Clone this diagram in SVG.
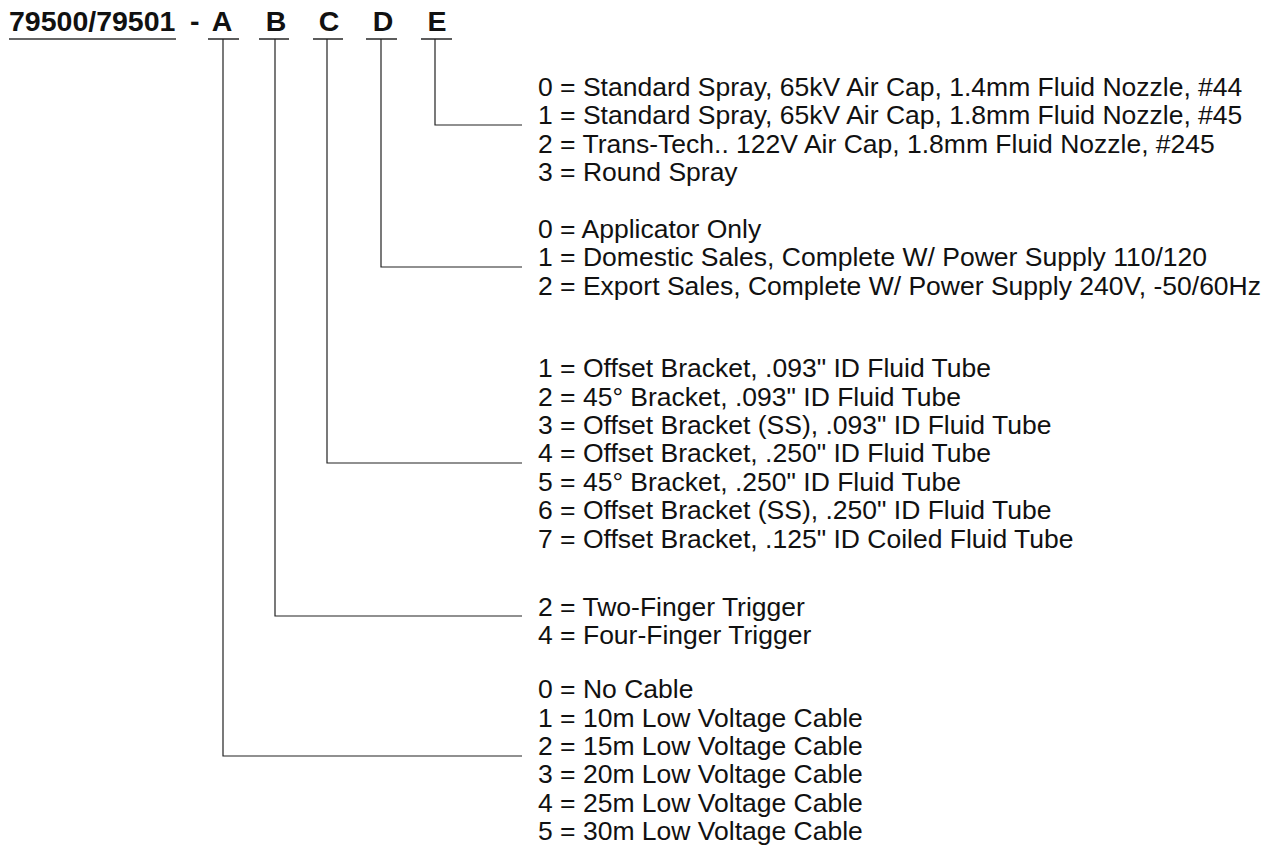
<svg xmlns="http://www.w3.org/2000/svg" width="1285" height="858" viewBox="0 0 1285 858">
<style>
.t{font-family:"Liberation Sans",Arial,sans-serif;font-size:26.5px;fill:#111}
.h{font-family:"Liberation Sans",Arial,sans-serif;font-size:28.5px;font-weight:bold;fill:#111}
.u{stroke:#333;stroke-width:1.6;fill:none}
.c{stroke:#222;stroke-width:1.2;fill:none}
</style>
<rect width="1285" height="858" fill="#fff"/>
<g id="header">
<text class="h" x="9" y="31">79500/79501</text>
<text class="h" x="190" y="31">-</text>
<line class="u" x1="9" y1="39" x2="176" y2="39"/>
</g>
<g id="A"><text class="h" x="222" y="31" text-anchor="middle">A</text><line class="u" x1="208" y1="39" x2="239" y2="39"/></g>
<g id="B"><text class="h" x="276" y="31" text-anchor="middle">B</text><line class="u" x1="259" y1="39" x2="289" y2="39"/></g>
<g id="C"><text class="h" x="329" y="31" text-anchor="middle">C</text><line class="u" x1="313" y1="39" x2="343" y2="39"/></g>
<g id="D"><text class="h" x="383" y="31" text-anchor="middle">D</text><line class="u" x1="366" y1="39" x2="397" y2="39"/></g>
<g id="E"><text class="h" x="437" y="31" text-anchor="middle">E</text><line class="u" x1="421" y1="39" x2="452" y2="39"/></g>
<g id="connectors">
<polyline class="c" points="435,39 435,125 522,125"/>
<polyline class="c" points="381,39 381,267 522,267"/>
<polyline class="c" points="327,39 327,463 522,463"/>
<polyline class="c" points="275,39 275,616 522,616"/>
<polyline class="c" points="223,39 223,756 522,756"/>
</g>
<g id="E-options">
<text class="t" x="538" y="96">0 = Standard Spray, 65kV Air Cap, 1.4mm Fluid Nozzle, #44</text>
<text class="t" x="538" y="124.4">1 = Standard Spray, 65kV Air Cap, 1.8mm Fluid Nozzle, #45</text>
<text class="t" x="538" y="152.8">2 = Trans-Tech.. 122V Air Cap, 1.8mm Fluid Nozzle, #245</text>
<text class="t" x="538" y="181.2">3 = Round Spray</text>
</g>
<g id="D-options">
<text class="t" x="538" y="238">0 = Applicator Only</text>
<text class="t" x="538" y="266.4">1 = Domestic Sales, Complete W/ Power Supply 110/120</text>
<text class="t" x="538" y="294.8">2 = Export Sales, Complete W/ Power Supply 240V, -50/60Hz</text>
</g>
<g id="C-options">
<text class="t" x="538" y="377.2">1 = Offset Bracket, .093" ID Fluid Tube</text>
<text class="t" x="538" y="405.6">2 = 45° Bracket, .093" ID Fluid Tube</text>
<text class="t" x="538" y="434">3 = Offset Bracket (SS), .093" ID Fluid Tube</text>
<text class="t" x="538" y="462.4">4 = Offset Bracket, .250" ID Fluid Tube</text>
<text class="t" x="538" y="490.8">5 = 45° Bracket, .250" ID Fluid Tube</text>
<text class="t" x="538" y="519.2">6 = Offset Bracket (SS), .250" ID Fluid Tube</text>
<text class="t" x="538" y="547.6">7 = Offset Bracket, .125" ID Coiled Fluid Tube</text>
</g>
<g id="B-options">
<text class="t" x="538" y="615.8">2 = Two-Finger Trigger</text>
<text class="t" x="538" y="644.2">4 = Four-Finger Trigger</text>
</g>
<g id="A-options">
<text class="t" x="538" y="698.2">0 = No Cable</text>
<text class="t" x="538" y="726.6">1 = 10m Low Voltage Cable</text>
<text class="t" x="538" y="755">2 = 15m Low Voltage Cable</text>
<text class="t" x="538" y="783.4">3 = 20m Low Voltage Cable</text>
<text class="t" x="538" y="811.8">4 = 25m Low Voltage Cable</text>
<text class="t" x="538" y="840.2">5 = 30m Low Voltage Cable</text>
</g>
</svg>
